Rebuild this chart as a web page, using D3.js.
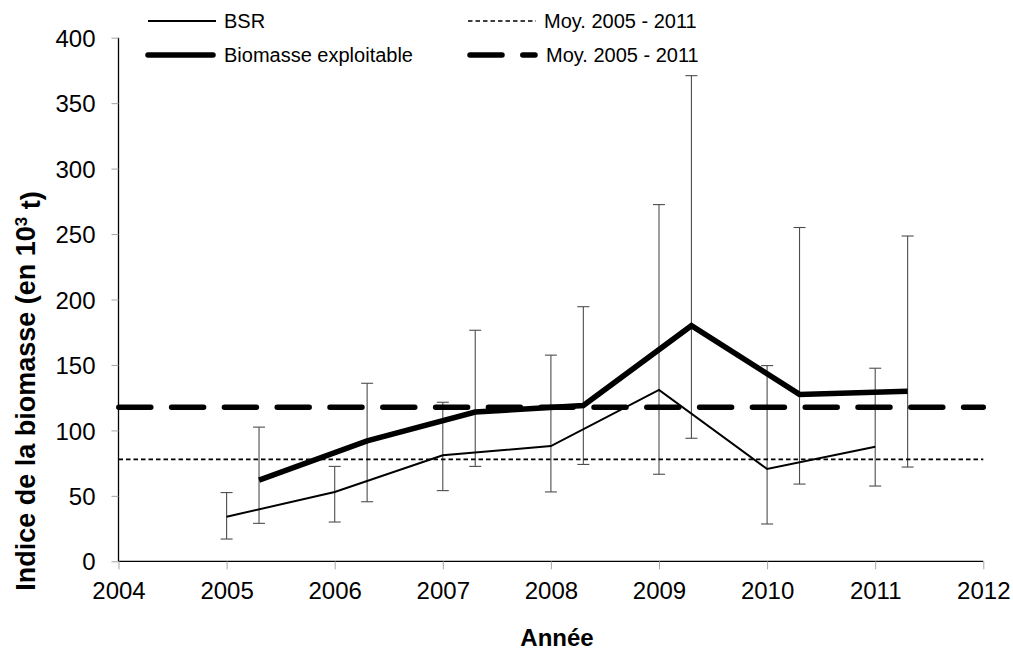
<!DOCTYPE html>
<html>
<head>
<meta charset="utf-8">
<script src="https://cdn.jsdelivr.net/npm/d3@7"></script>
<style>
  body { margin:0; background:#fff; }
  svg { display:block; font-family: "Liberation Sans", Arial, sans-serif; }
</style>
</head>
<body>
<svg id="chart" width="1013" height="653"></svg>
<script>
// ---- data ----
const years = [2005, 2006, 2007, 2008, 2009, 2010, 2011];
const bsr     = [34, 53, 81, 88, 131, 70.5, 87.5];
const bsrLow  = [17, 30, 54, 53, 66.5, 28.5, 57.5];
const bsrHigh = [52.5, 72.5, 121.5, 157.5, 272.5, 149.5, 147.5];
const bioOffset = 0.3;
const bio     = [62, 92, 114, 119, 180, 127.5, 130];
const bioLow  = [29, 45.5, 72.5, 74, 94, 59, 72];
const bioHigh = [102.5, 136, 176.5, 194.5, 371, 255, 248.5];
const bsrMean = 77.9;
const bioMean = 117.6;
const xTicks = [2004, 2005, 2006, 2007, 2008, 2009, 2010, 2011, 2012];
const yTicks = [0, 50, 100, 150, 200, 250, 300, 350, 400];
const legendLabels = ["BSR", "Biomasse exploitable", "Moy. 2005 - 2011", "Moy. 2005 - 2011"];

// ---- layout ----
const svg = d3.select("#chart");
const x = d3.scaleLinear().domain([2004, 2012]).range([118.5, 983.3]);
const y = d3.scaleLinear().domain([0, 400]).range([561.3, 37.7]);

// axes
const xAxis = svg.append("g").attr("transform", `translate(0,${y(0)})`)
  .call(d3.axisBottom(x).tickValues(xTicks).tickFormat(d3.format("d")).tickSize(8).tickPadding(7));
const yAxis = svg.append("g").attr("transform", `translate(${x(2004)},0)`)
  .call(d3.axisLeft(y).tickValues(yTicks).tickSize(7).tickPadding(16));
[xAxis, yAxis].forEach(g => {
  g.select(".domain").attr("stroke", "#000").attr("stroke-width", 1.3);
  g.selectAll(".tick line").attr("stroke", "#a6a6a6").attr("stroke-width", 1);
  g.selectAll(".tick text").attr("fill", "#000").style("font-size", "24px")
    .style("font-family", '"Liberation Sans", Arial, sans-serif');
});
yAxis.select(".domain").attr("d", `M0,${y(0)}V${y(400)}`);
xAxis.select(".domain").attr("d", `M${x(2004)},0H${x(2012)}`);
yAxis.selectAll(".tick text").attr("dy", "0.36em");
xAxis.selectAll(".tick text").attr("dy", "0.95em");

// error bars
function errorBars(xs, lo, hi) {
  const g = svg.append("g").attr("stroke", "#4d4d4d").attr("stroke-width", 1.1);
  xs.forEach((xv, i) => {
    const cx = x(xv);
    g.append("line").attr("x1", cx).attr("x2", cx).attr("y1", y(lo[i])).attr("y2", y(hi[i]));
    g.append("line").attr("x1", cx - 6).attr("x2", cx + 6).attr("y1", y(lo[i])).attr("y2", y(lo[i]));
    g.append("line").attr("x1", cx - 6).attr("x2", cx + 6).attr("y1", y(hi[i])).attr("y2", y(hi[i]));
  });
}
errorBars(years, bsrLow, bsrHigh);
errorBars(years.map(v => v + bioOffset), bioLow, bioHigh);

// mean lines
svg.append("line").attr("x1", x(2004)).attr("x2", x(2012))
  .attr("y1", y(bsrMean)).attr("y2", y(bsrMean))
  .attr("stroke", "#000").attr("stroke-width", 1.6).attr("stroke-dasharray", "4.5,3");
svg.append("line").attr("x1", x(2004) + 0.3).attr("x2", x(2012))
  .attr("y1", y(bioMean)).attr("y2", y(bioMean))
  .attr("stroke", "#000").attr("stroke-width", 5.5).attr("stroke-linecap", "round")
  .attr("stroke-dasharray", "32,20.8");

// series lines
const line = d3.line().x(d => x(d[0])).y(d => y(d[1]));
svg.append("path").datum(years.map((v, i) => [v, bsr[i]]))
  .attr("d", line).attr("fill", "none").attr("stroke", "#000").attr("stroke-width", 2);
svg.append("path").datum(years.map((v, i) => [v + bioOffset, bio[i]]))
  .attr("d", line).attr("fill", "none").attr("stroke", "#000").attr("stroke-width", 5.5)
  .attr("stroke-linejoin", "miter");

// legend
const leg = svg.append("g").style("font-size", "20px");
const legItems = [
  {x0: 148, y0: 21, w: 2, dash: null, cap: "butt", label: legendLabels[0]},
  {x0: 148, y0: 55, w: 5.5, dash: null, cap: "round", label: legendLabels[1]},
  {x0: 468, y0: 21, w: 1.6, dash: "4.5,3", cap: "butt", label: legendLabels[2]},
  {x0: 470, y0: 55, w: 5.5, dash: "32,20.8", cap: "round", label: legendLabels[3]}
];
legItems.forEach(it => {
  const l = leg.append("line").attr("x1", it.x0).attr("x2", it.x0 + (it.cap === "round" ? 65 : 68))
    .attr("y1", it.y0).attr("y2", it.y0).attr("stroke", "#000").attr("stroke-width", it.w)
    .attr("stroke-linecap", it.cap);
  if (it.dash) l.attr("stroke-dasharray", it.dash);
  leg.append("text").attr("x", it.x0 + 76).attr("y", it.y0 + 7).text(it.label);
});

// axis titles
svg.append("text").attr("x", 557).attr("y", 646).attr("text-anchor", "middle")
  .style("font-size", "24px").style("font-weight", "bold").text("Année");
const yt = svg.append("text").attr("transform", `translate(35,391) rotate(-90)`)
  .attr("text-anchor", "middle").style("font-size", "27px").style("font-weight", "bold");
yt.append("tspan").text("Indice de la biomasse (en 10");
yt.append("tspan").attr("dy", "-0.45em").style("font-size", "17px").text("3");
yt.append("tspan").attr("dy", "0.45em").text(" t)");
</script>
</body>
</html>
